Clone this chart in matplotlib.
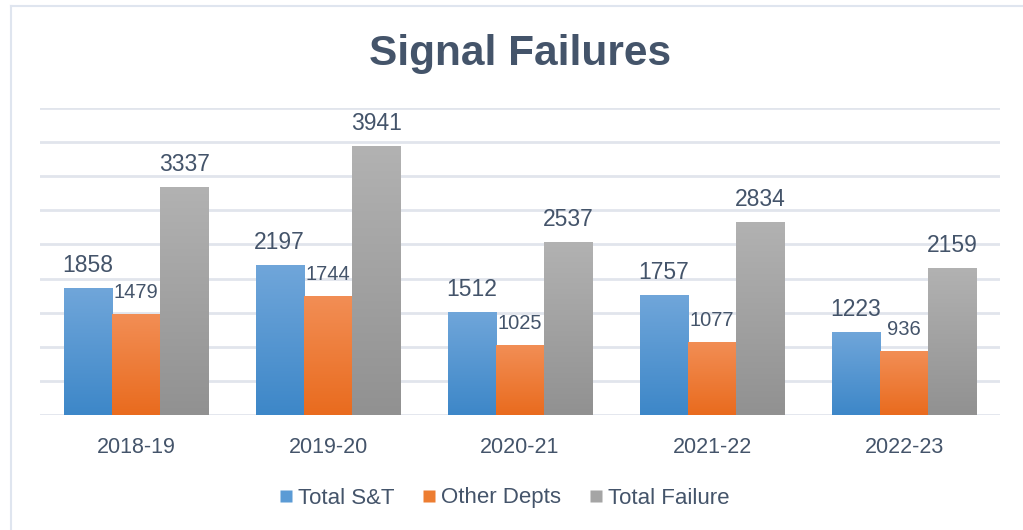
import numpy as np
import matplotlib
matplotlib.use("Agg")
import matplotlib.pyplot as plt
from matplotlib.colors import LinearSegmentedColormap
from matplotlib.lines import Line2D

plt.rcParams['font.family'] = ['Liberation Sans', 'DejaVu Sans']

categories = ["2018-19", "2019-20", "2020-21", "2021-22", "2022-23"]
series_names = ["Total S&T", "Other Depts", "Total Failure"]
total_st = [1858, 2197, 1512, 1757, 1223]
other_depts = [1479, 1744, 1025, 1077, 936]
total_failure = [3337, 3941, 2537, 2834, 2159]

series = [total_st, other_depts, total_failure]
grad_colors = [("#3d87c8", "#70a6da"), ("#e96b1e", "#f28e55"), ("#919191", "#b2b2b2")]
mid_colors = ["#5b9bd5", "#ed7d31", "#a5a5a5"]
label_sizes = [16.5, 14.5, 16.5]
txt_color = "#44546A"

fig = plt.figure(figsize=(10.23, 5.30), dpi=100)
ax = fig.add_axes([40/1023, 1-415/530, 960/1023, (415-108)/530])

x = np.arange(len(categories))
w = 0.2515
grad = np.linspace(0, 1, 256).reshape(-1, 1)
for i, vals in enumerate(series):
    offs = (i - 1) * w
    bars = ax.bar(x + offs, vals, width=w, color=mid_colors[i], edgecolor='none',
                  zorder=2, label=series_names[i])
    cmap = LinearSegmentedColormap.from_list(f"g{i}", list(grad_colors[i]))
    for b, v in zip(bars, vals):
        x0 = b.get_x()
        im = ax.imshow(grad, extent=[x0, x0 + b.get_width(), 0, v], origin='lower',
                       aspect='auto', cmap=cmap, zorder=3, interpolation='bicubic')
        im.set_clip_path(b)
        ax.annotate(str(v), (b.get_x() + b.get_width()/2, v), xytext=(0, 11.5),
                    textcoords='offset points', ha='center', va='baseline',
                    fontsize=label_sizes[i], color=txt_color, zorder=5)

ax.set_xlim(-0.5, len(categories) - 0.5)
ax.set_ylim(0, 4500)
ax.set_yticks(np.arange(0, 4501, 500))
ax.yaxis.grid(True, color="#e1e5ec", linewidth=2, zorder=0)
ax.set_axisbelow(True)
ax.tick_params(axis='y', left=False, labelleft=False)
ax.tick_params(axis='x', length=0, pad=16, labelsize=15.5, labelcolor=txt_color)
ax.set_xticks(x)
ax.set_xticklabels(categories)
for s in ax.spines.values():
    s.set_visible(False)

handles = [Line2D([], [], marker='s', linestyle='none', markersize=8.6,
                  markerfacecolor=mid_colors[i], markeredgecolor='none')
           for i in range(3)]
fig.legend(handles, series_names, loc='center', bbox_to_anchor=(504.5/1023, 1-498/530),
           ncol=3, frameon=False, fontsize=16, handlelength=0.6, handletextpad=0.25,
           columnspacing=1.25, labelcolor=txt_color, borderaxespad=0, borderpad=0)

fig.text(519.7/1023, 1-65/530, "Signal Failures", ha='center', va='baseline',
         fontsize=30.5, fontweight='bold', color=txt_color)

# chart border
fig.add_artist(Line2D([10.5/1023, 10.5/1023], [0, 1-5.5/530], transform=fig.transFigure,
                      color="#dfe5ef", linewidth=1.5))
fig.add_artist(Line2D([10.5/1023, 1], [1-5.5/530, 1-5.5/530], transform=fig.transFigure,
                      color="#dfe5ef", linewidth=1.5))

fig.savefig("out.png", dpi=100)
